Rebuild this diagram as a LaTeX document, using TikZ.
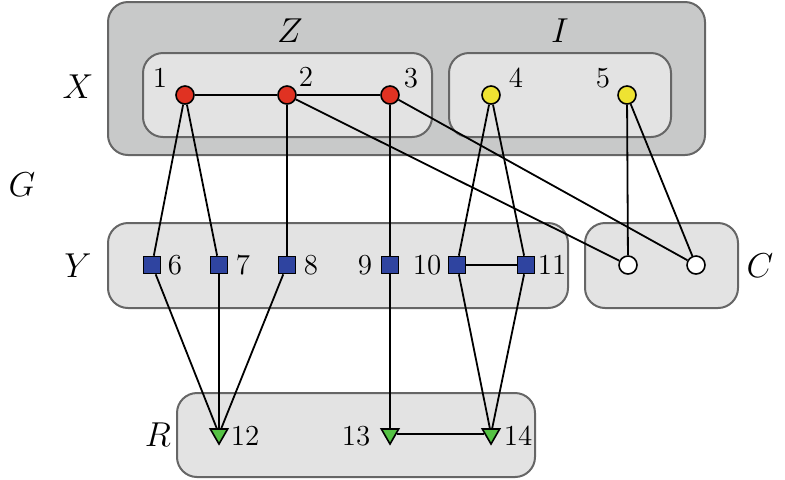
\documentclass[tikz,border=0pt]{standalone}
\usetikzlibrary{shapes.geometric}
\definecolor{outergray}{HTML}{C8C9C9}
\definecolor{innergray}{HTML}{E3E3E3}
\definecolor{rimgray}{HTML}{666666}
\definecolor{vred}{HTML}{E03222}
\definecolor{vyellow}{HTML}{EEE332}
\definecolor{vblue}{HTML}{2F44A0}
\definecolor{vgreen}{HTML}{55C244}

\begin{document}
\begin{tikzpicture}[x=0.5pt, y=-0.5pt,
        outerbox/.style={draw=rimgray, fill=outergray, line width=1pt, rounded corners=10pt},
        innerbox/.style={draw=rimgray, fill=innergray, line width=1pt, rounded corners=10pt},
        dotred/.style={draw, circle, fill=vred, minimum size=9pt, inner sep=0pt, line width=0.8pt},
        dotyellow/.style={draw, circle, fill=vyellow, minimum size=9pt, inner sep=0pt, line width=0.8pt},
        dotopen/.style={draw, circle, fill=white, minimum size=9pt, inner sep=0pt, line width=0.8pt},
        sqblue/.style={draw, rectangle, fill=vblue, minimum size=8.5pt, inner sep=0pt, line width=0.8pt},
        trigreen/.style={draw, regular polygon, regular polygon sides=3, shape border rotate=180, fill=vgreen, minimum size=10pt, inner sep=0pt, line width=0.8pt},
        num/.style={font=\fontsize{14.5}{16}\selectfont, inner sep=0pt},
        setname/.style={font=\fontsize{18}{20}\selectfont, inner sep=0pt},
        edge/.style={line width=0.9pt}]
        \useasboundingbox (0,0) rectangle (785,479);
        % groups
        \filldraw[outerbox] (108,2) rectangle (705,155);
        \filldraw[innerbox] (143,53) rectangle (432,137);
        \filldraw[innerbox] (449,53) rectangle (671,137);
        \filldraw[innerbox] (108,223) rectangle (568,308);
        \filldraw[innerbox] (585,223) rectangle (738,308);
        \filldraw[innerbox] (177,393) rectangle (535,477);

        \node[setname] (lz) at (290,31) {$Z$};
        \node[setname] (li) at (560,31) {$I$};
        \node[setname] (lx) at (78,87) {$X$};
        \node[setname] (lg) at (22,185) {$G$};
        \node[setname] (ly) at (78,266) {$Y$};
        \node[setname] (lc) at (760,266) {$C$};
        \node[setname] (lr) at (158,435) {$R$};

        % vertices
        \node[dotred] (n1) at (185,95) {};
        \node[dotred] (n2) at (287,95) {};
        \node[dotred] (n3) at (390,95) {};
        \node[dotyellow] (n4) at (491,95) {};
        \node[dotyellow] (n5) at (627,95) {};
        \node[sqblue] (n6) at (152,265) {};
        \node[sqblue] (n7) at (219,265) {};
        \node[sqblue] (n8) at (287,265) {};
        \node[sqblue] (n9) at (390,265) {};
        \node[sqblue] (n10) at (457,265) {};
        \node[sqblue] (n11) at (526,265) {};
        \node[dotopen] (c1) at (628,265) {};
        \node[dotopen] (c2) at (696,265) {};
        \node[trigreen] (n12) at (219,434) {};
        \node[trigreen] (n13) at (390,434) {};
        \node[trigreen] (n14) at (491,434) {};

        \node[num] (t1) at (160,78) {1};
        \node[num] (t2) at (306,77) {2};
        \node[num] (t3) at (411,78) {3};
        \node[num] (t4) at (516,78) {4};
        \node[num] (t5) at (603,78) {5};
        \node[num] (t6) at (175,265) {6};
        \node[num] (t7) at (243,265) {7};
        \node[num] (t8) at (311,265) {8};
        \node[num] (t9) at (365,265) {9};
        \node[num] (t10) at (427,265) {10};
        \node[num] (t11) at (552,265) {11};
        \node[num] (t12) at (245,436) {12};
        \node[num] (t13) at (356,436) {13};
        \node[num] (t14) at (518,436) {14};

        % connections
        \draw[edge] (n1) -- (n2);
        \draw[edge] (n2) -- (n3);
        \draw[edge] (n10) -- (n11);
        \draw[edge] (n13) -- (n14);
        \draw[edge] (n1) -- (n6);
        \draw[edge] (n1) -- (n7);
        \draw[edge] (n2) -- (n8);
        \draw[edge] (n2) -- (c1);
        \draw[edge] (n3) -- (n9);
        \draw[edge] (n3) -- (c2);
        \draw[edge] (n4) -- (n10);
        \draw[edge] (n4) -- (n11);
        \draw[edge] (n5) -- (c1);
        \draw[edge] (n5) -- (c2);
        \draw[edge] (n6) -- (n12);
        \draw[edge] (n7) -- (n12);
        \draw[edge] (n8) -- (n12);
        \draw[edge] (n9) -- (n13);
        \draw[edge] (n10) -- (n14);
        \draw[edge] (n11) -- (n14);
    \end{tikzpicture}
\end{document}
